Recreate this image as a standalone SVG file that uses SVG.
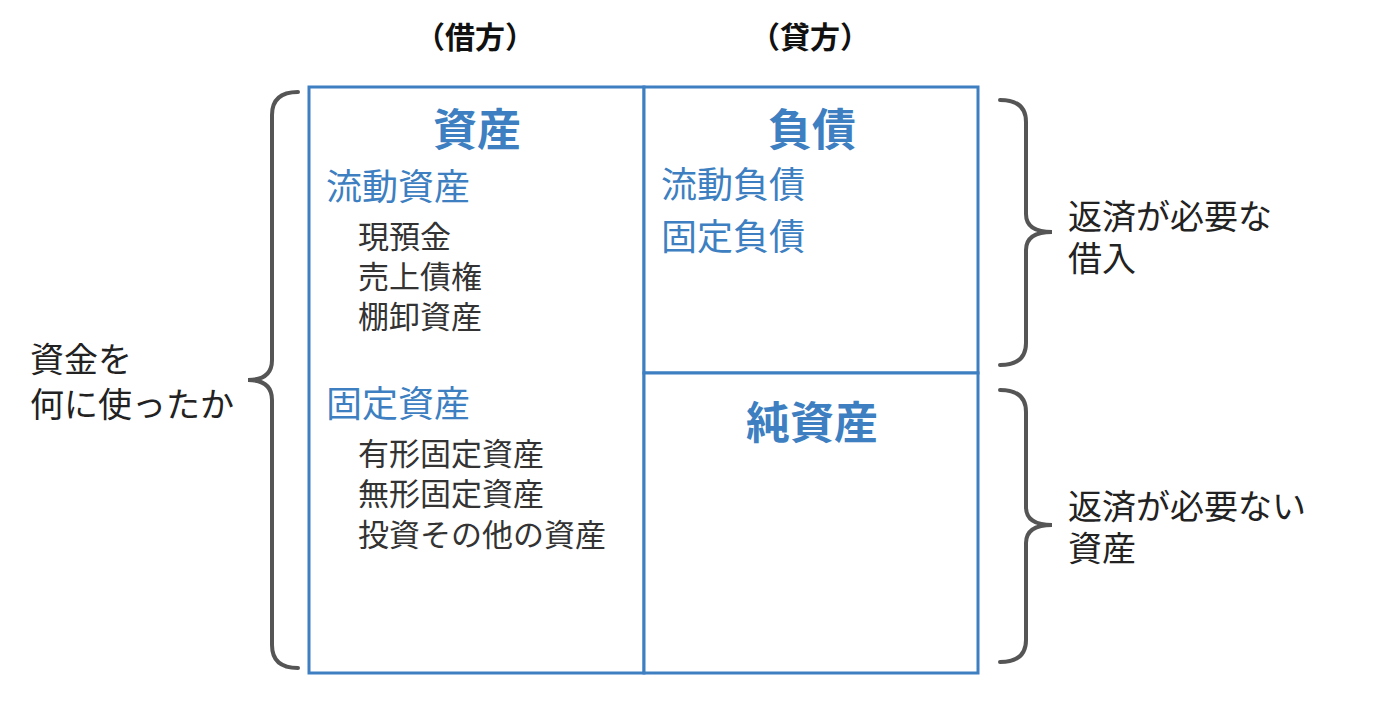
<svg xmlns="http://www.w3.org/2000/svg" width="1380" height="709" viewBox="0 0 1380 709">
<style>
text{font-family:"Noto Sans CJK JP","Noto Sans",sans-serif}
.h{font-size:30px;font-weight:bold;fill:#111}
.t{font-size:44px;font-weight:bold;fill:#3d7fc1}
.s{font-size:36px;fill:#3d7fc1}
.i{font-size:31px;fill:#333}
.l{font-size:34px;fill:#222}
.box{fill:#fff;stroke:#3d7fc1;stroke-width:3}
.br{fill:none;stroke:#555;stroke-width:4;stroke-linecap:round}
</style>
<rect width="1380" height="709" fill="#fff"/>
<text class="h" x="475" y="48" text-anchor="middle">（借方）</text>
<text class="h" x="810" y="48" text-anchor="middle">（貸方）</text>
<g id="assets">
<rect class="box" x="309" y="87" width="335" height="586"/>
<text class="t" x="477" y="146" text-anchor="middle">資産</text>
<text class="s" x="326" y="200">流動資産</text>
<text class="i" x="358" y="248">現預金</text>
<text class="i" x="358" y="288">売上債権</text>
<text class="i" x="358" y="328">棚卸資産</text>
<text class="s" x="326" y="417">固定資産</text>
<text class="i" x="358" y="465">有形固定資産</text>
<text class="i" x="358" y="505">無形固定資産</text>
<text class="i" x="358" y="546">投資その他の資産</text>
</g>
<g id="liabilities">
<rect class="box" x="644" y="87" width="334" height="286"/>
<text class="t" x="812" y="146" text-anchor="middle">負債</text>
<text class="s" x="661" y="198">流動負債</text>
<text class="s" x="661" y="250">固定負債</text>
</g>
<g id="equity">
<rect class="box" x="644" y="373" width="334" height="300"/>
<text class="t" x="812" y="439" text-anchor="middle">純資産</text>
</g>
<g id="braces">
<path class="br" d="M298,92 Q272,92 272,115 L272,360 Q272,380 248,380 Q272,380 272,400 L272,645 Q272,668 298,668"/>
<path class="br" d="M1000,100 Q1026,100 1026,122 L1026,214 Q1026,232 1052,232 Q1026,232 1026,250 L1026,343 Q1026,365 1000,365"/>
<path class="br" d="M1000,390 Q1026,390 1026,412 L1026,507 Q1026,525 1052,525 Q1026,525 1026,543 L1026,640 Q1026,662 1000,662"/>
</g>
<g id="labels">
<text class="l" x="30" y="372">資金を</text>
<text class="l" x="30" y="417">何に使ったか</text>
<text class="l" x="1068" y="229">返済が必要な</text>
<text class="l" x="1068" y="271">借入</text>
<text class="l" x="1068" y="519">返済が必要ない</text>
<text class="l" x="1068" y="561">資産</text>
</g>
</svg>
